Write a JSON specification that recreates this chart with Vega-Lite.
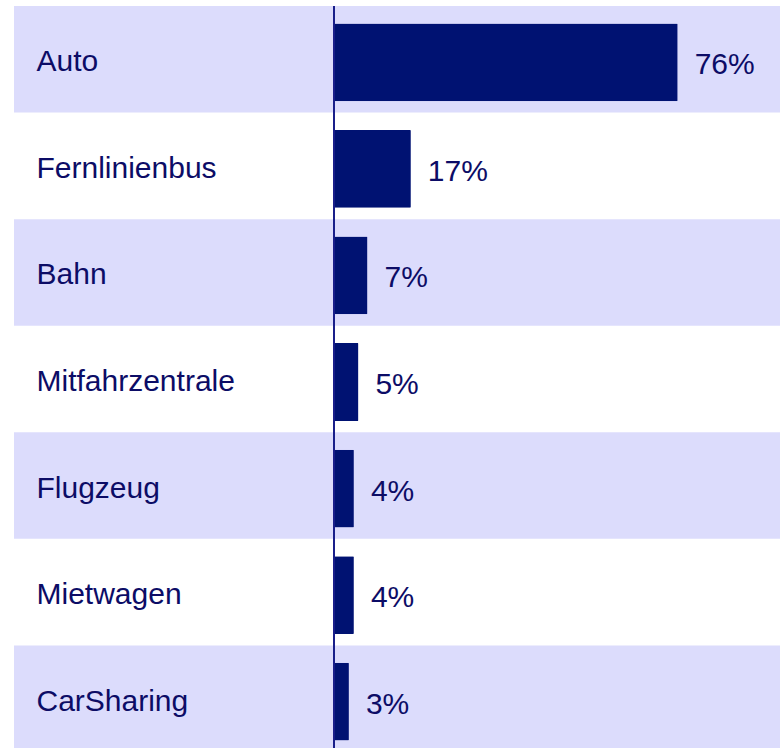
{
  "$schema": "https://vega.github.io/schema/vega-lite/v6.json",
  "width": 766,
  "height": 746,
  "autosize": {"type": "none"},
  "padding": {"left": 14, "top": 6, "right": 0, "bottom": 0},
  "background": "white",
  "config": {"view": {"stroke": null}},
  "data": {
    "values": [
      {"mode": "Auto", "value": 76.0, "label": "76%", "band": 1},
      {"mode": "Fernlinienbus", "value": 17.0, "label": "17%", "band": 0},
      {"mode": "Bahn", "value": 7.4, "label": "7%", "band": 1},
      {"mode": "Mitfahrzentrale", "value": 5.4, "label": "5%", "band": 0},
      {"mode": "Flugzeug", "value": 4.4, "label": "4%", "band": 1},
      {"mode": "Mietwagen", "value": 4.4, "label": "4%", "band": 0},
      {"mode": "CarSharing", "value": 3.3, "label": "3%", "band": 1}
    ]
  },
  "layer": [
    {
      "mark": {"type": "rect", "color": "#dcdcfc"},
      "encoding": {
        "y": {
          "field": "mode",
          "type": "nominal",
          "sort": null,
          "scale": {"paddingInner": 0, "paddingOuter": 0},
          "axis": {
            "title": null,
            "orient": "left",
            "domain": false,
            "ticks": false,
            "tickSize": 0,
            "labelAlign": "left",
            "labelBaseline": "middle",
            "labelPadding": -22,
            "labelOffset": 3,
            "labelLimit": 0,
            "labelFont": "Liberation Sans",
            "labelFontSize": 30,
            "labelColor": "#0c0c66",
            "zindex": 1
          }
        },
        "opacity": {"field": "band", "type": "quantitative", "scale": {"domain": [0, 1], "range": [0, 1]}, "legend": null}
      }
    },
    {
      "mark": {"type": "bar", "color": "#001272", "height": {"band": 0.73}, "yOffset": 3, "cornerRadiusEnd": 1},
      "encoding": {
        "y": {"field": "mode", "type": "nominal", "sort": null},
        "x": {
          "field": "value",
          "type": "quantitative",
          "scale": {"domain": [-70.76, 98.63], "nice": false, "zero": false},
          "axis": null
        }
      }
    },
    {
      "mark": {"type": "rule", "color": "#1a1f8a", "strokeWidth": 1},
      "encoding": {
        "x": {"datum": 0, "type": "quantitative"}
      }
    },
    {
      "mark": {
        "type": "text",
        "align": "left",
        "baseline": "middle",
        "dx": 17,
        "dy": 6,
        "font": "Liberation Sans",
        "fontSize": 30,
        "color": "#0c0c66"
      },
      "encoding": {
        "y": {"field": "mode", "type": "nominal", "sort": null},
        "x": {"field": "value", "type": "quantitative"},
        "text": {"field": "label"}
      }
    }
  ]
}
